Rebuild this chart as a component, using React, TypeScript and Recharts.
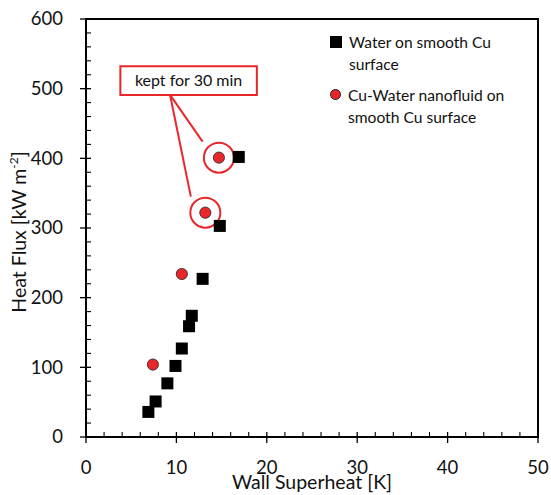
import {
  ScatterChart,
  Scatter,
  XAxis,
  YAxis,
  ReferenceArea,
  ReferenceLine,
  ReferenceDot,
} from "recharts";

const waterX = [6.9, 7.7, 9.0, 9.9, 10.6, 11.4, 11.7, 12.9, 14.8, 16.9];
const waterY = [36, 51, 77, 102, 127, 159, 174, 227, 303, 402];
const nanoX = [7.4, 10.6, 13.2, 14.7];
const nanoY = [104, 234, 322, 401];

const xMajor = [0, 10, 20, 30, 40, 50];
const yMajor = [0, 100, 200, 300, 400, 500, 600];
const xTicks = Array.from({ length: 26 }, (_, i) => i * 2);
const yTicks = Array.from({ length: 31 }, (_, i) => i * 20);

const water = waterX.map((x, i) => ({ x, y: waterY[i] }));
const nano = nanoX.map((x, i) => ({ x, y: nanoY[i] }));

const RED = "#e8272b";
const FONT = "Lato, 'Open Sans', sans-serif";

function XTick(props: any) {
  const { x, y, payload } = props;
  const major = xMajor.includes(payload.value);
  return (
    <g>
      {major ? (
        <>
          <line x1={x} x2={x} y1={y - 5} y2={y + 6} stroke="#000" strokeWidth={1.3} />
          <text x={x} y={y + 31} dy="0.35em" textAnchor="middle" fontSize={18.5} fill="#111" fontFamily={FONT}>
            {payload.value}
          </text>
        </>
      ) : (
        <line x1={x} x2={x} y1={y - 5} y2={y} stroke="#000" strokeWidth={1.1} />
      )}
    </g>
  );
}

function YTick(props: any) {
  const { x, y, payload } = props;
  const major = yMajor.includes(payload.value);
  return (
    <g>
      {major ? (
        <>
          <line x1={x - 6} x2={x + 5} y1={y} y2={y} stroke="#000" strokeWidth={1.3} />
          <text x={x - 23} y={y} dy="0.35em" textAnchor="end" fontSize={18.5} fill="#111" fontFamily={FONT}>
            {payload.value}
          </text>
        </>
      ) : (
        <line x1={x} x2={x + 5} y1={y} y2={y} stroke="#000" strokeWidth={1.1} />
      )}
    </g>
  );
}

const square = (p: any) => <rect x={p.cx - 6} y={p.cy - 6} width={12} height={12} fill="#000" />;
const dot = (p: any) => <circle cx={p.cx} cy={p.cy} r={5.6} fill={RED} stroke="#222" strokeWidth={0.8} />;

export default function App() {
  return (
    <div style={{ position: "absolute", left: 0, top: 0, width: 551, height: 495, background: "#fff", fontFamily: FONT }}>
      <ScatterChart width={551} height={495} margin={{ top: 19, right: 13, left: 0, bottom: 0 }}>
        <XAxis
          type="number"
          dataKey="x"
          domain={[0, 50]}
          ticks={xTicks}
          interval={0}
          tickSize={0}
          tickMargin={0}
          tickLine={false}
          tick={<XTick />}
          height={58}
          axisLine={{ stroke: "#000", strokeWidth: 2 }}
          label={{
            content: () => (
              <text x={312} y={489} textAnchor="middle" fontSize={19.5} fill="#111" fontFamily={FONT}>
                Wall Superheat  [K]
              </text>
            ),
          }}
        />
        <YAxis
          type="number"
          dataKey="y"
          domain={[0, 600]}
          ticks={yTicks}
          interval={0}
          tickSize={0}
          tickMargin={0}
          tickLine={false}
          tick={<YTick />}
          width={86}
          axisLine={{ stroke: "#000", strokeWidth: 2 }}
          label={{
            content: () => (
              <text transform="translate(26,232) rotate(-90)" textAnchor="middle" fontSize={19.5} fill="#111" fontFamily={FONT}>
                Heat Flux [kW m
                <tspan fontSize={12} dy={-8}>-2</tspan>
                <tspan dy={8}>]</tspan>
              </text>
            ),
          }}
        />
        <ReferenceArea x1={0} x2={50} y1={0} y2={600} fill="none" stroke="#000" strokeWidth={2} ifOverflow="visible" />
        <ReferenceArea
          x1={3.8}
          x2={18.9}
          y1={491}
          y2={532}
          fill="#fff"
          fillOpacity={1}
          stroke={RED}
          strokeWidth={2}
          ifOverflow="visible"
          label={{ value: "kept for 30 min", position: "center", fontSize: 16, fill: "#111", fontFamily: FONT }}
        />
        <ReferenceLine segment={[{ x: 9.3, y: 491 }, { x: 12.9, y: 424 }]} stroke={RED} strokeWidth={2} ifOverflow="visible" />
        <ReferenceLine segment={[{ x: 9.3, y: 491 }, { x: 11.6, y: 345 }]} stroke={RED} strokeWidth={2} ifOverflow="visible" />
        <ReferenceDot x={nano[3].x} y={nano[3].y} r={15} fill="none" stroke={RED} strokeWidth={2} />
        <ReferenceDot x={nano[2].x} y={nano[2].y} r={15} fill="none" stroke={RED} strokeWidth={2} />
        <Scatter data={water} shape={square} isAnimationActive={false} />
        <Scatter data={nano} shape={dot} isAnimationActive={false} />
      </ScatterChart>
      <div style={{ position: "absolute", left: 330, top: 31, fontSize: 15.6, color: "#111", lineHeight: "22px" }}>
        <div style={{ display: "flex" }}>
          <div style={{ width: 12, height: 12, background: "#000", marginTop: 5, marginRight: 7 }} />
          <div>Water on smooth Cu<br />surface</div>
        </div>
        <div style={{ display: "flex", marginTop: 9 }}>
          <div style={{ width: 11, height: 11, borderRadius: "50%", background: RED, border: "0.8px solid #222", marginTop: 5, marginRight: 7, boxSizing: "border-box" }} />
          <div>Cu-Water nanofluid on<br />smooth Cu surface</div>
        </div>
      </div>
    </div>
  );
}
